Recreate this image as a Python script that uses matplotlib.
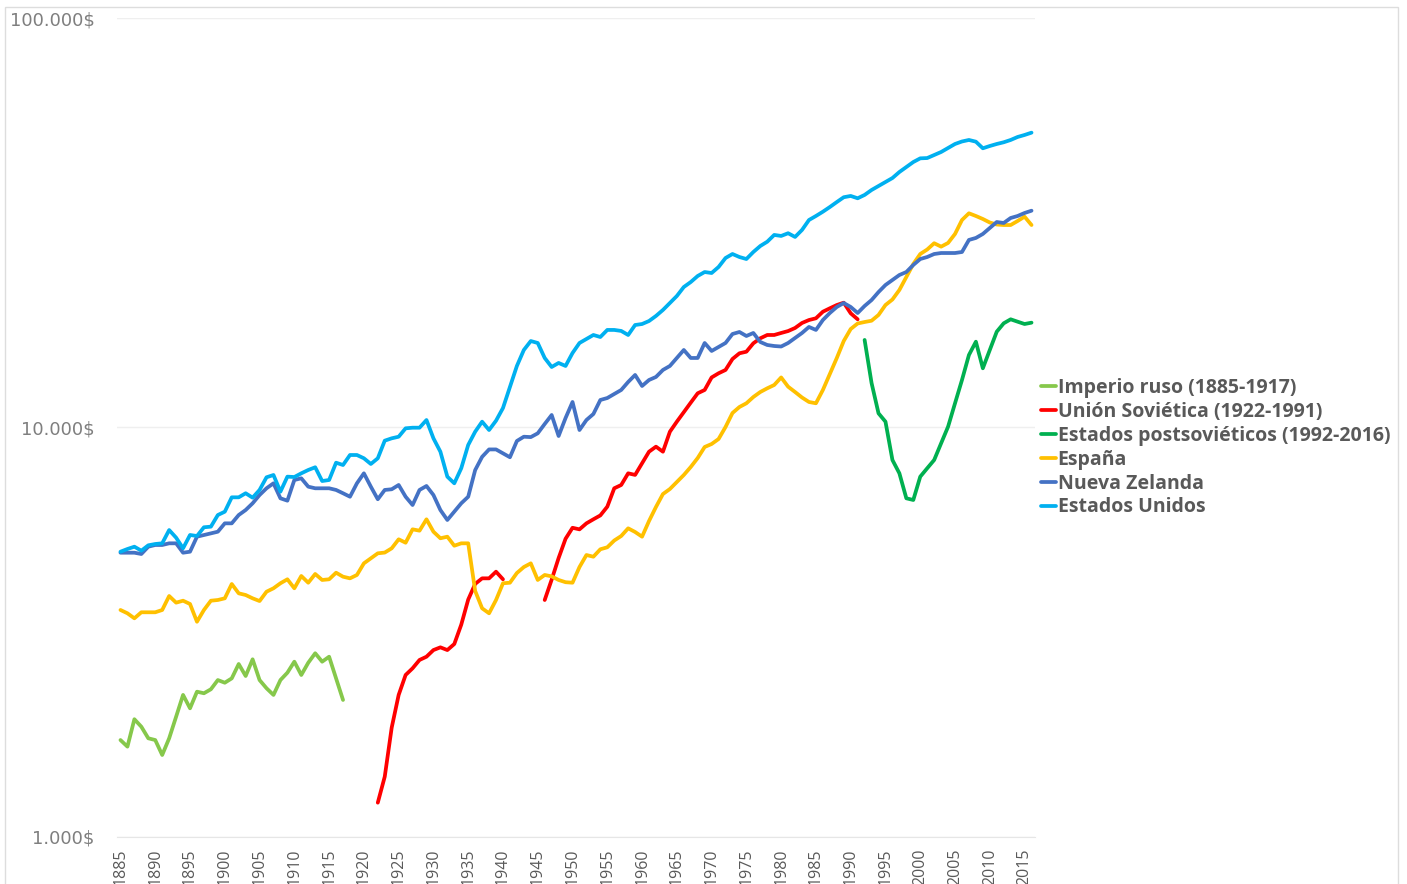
import numpy as np
import matplotlib
matplotlib.use("Agg")
import matplotlib.pyplot as plt
from matplotlib.ticker import FixedLocator, NullLocator, FuncFormatter
from matplotlib.patches import Rectangle

# GDP per capita (log scale), years 1885-2016
years = np.arange(1885, 2017)

ruso_start = 1885
ruso = [1725, 1662, 1939, 1859, 1742, 1725, 1586, 1742, 1967, 2223,
        2062, 2264, 2244, 2295, 2417, 2381, 2440, 2645, 2473, 2716,
        2417, 2308, 2223, 2417, 2519, 2680, 2487, 2664, 2810, 2680,
        2756, 2440, 2161]

urss_start = 1922
urss = [1213, 1404, 1850, 2223, 2487, 2582, 2706, 2756, 2861, 2905,
        2861, 2960, 3300, 3800, 4150, 4282, 4282, 4445, 4259,
        np.nan, np.nan, np.nan, np.nan, np.nan,
        3791, 4250, 4800, 5350, 5690, 5640, 5834, 5968, 6100, 6407,
        7105, 7238, 7729, 7660, 8178, 8728, 8978, 8728, 9766, 10333,
        10900, 11500, 12122, 12350, 13250, 13565, 13820, 14700, 15178, 15315,
        16056, 16513, 16824, 16824, 17015, 17200, 17500, 18000, 18300, 18480,
        19177, 19548, 19911, 20175, 19005, 18374]

postsov_start = 1992
postsov = [16360, 12840, 10830, 10333, 8330, 7729, 6716, 6653, 7585, 7952,
           8330, 9150, 10046, 11460, 13062, 15034, 16200, 13950, 15463, 17138,
           17966, 18374, 18130, 17895, 18030]

espana = [3584, 3518, 3420, 3538, 3538, 3538, 3584, 3877, 3735, 3776,
          3707, 3355, 3584, 3776, 3791, 3827, 4148, 3936, 3899, 3827,
          3769, 3972, 4049, 4165, 4259, 4049, 4339, 4178, 4388, 4243,
          4259, 4420, 4322, 4282, 4364, 4659, 4792, 4929, 4950, 5070,
          5333, 5232, 5641, 5598, 5968, 5566, 5364, 5412, 5144, 5214,
          5214, 3990, 3618, 3518, 3791, 4165, 4178, 4412, 4563, 4659,
          4243, 4364, 4330, 4243, 4190, 4178, 4563, 4882, 4836, 5042,
          5099, 5297, 5433, 5673, 5557, 5412, 5911, 6397, 6879, 7076,
          7360, 7656, 8009, 8424, 8962, 9114, 9373, 10028, 10849, 11222,
          11459, 11870, 12209, 12466, 12700, 13251, 12579, 12209, 11837, 11543,
          11459, 12350, 13506, 14782, 16266, 17399, 17948, 18097, 18230, 18830,
          19911, 20540, 21670, 23316, 25078, 26527, 27206, 28184, 27648, 28228,
          29692, 32115, 33351, 32849, 32298, 31665, 31310, 31222, 31222, 31936,
          32720, 31222]

nueva_zelanda = [4946, 4946, 4946, 4910, 5116, 5165, 5165, 5214, 5214, 4946,
                 4974, 5412, 5464, 5516, 5566, 5834, 5834, 6113, 6288, 6530,
                 6841, 7105, 7307, 6716, 6627, 7444, 7515, 7170, 7105, 7105,
                 7105, 7039, 6909, 6776, 7307, 7729, 7170, 6680, 7039, 7066,
                 7238, 6776, 6467, 7039, 7197, 6841, 6288, 5945, 6229, 6530,
                 6776, 7870, 8480, 8840, 8840, 8650, 8460, 9270, 9495, 9475,
                 9679, 10200, 10728, 9533, 10549, 11543, 9860, 10430, 10789, 11673,
                 11803, 12072, 12350, 12917, 13437, 12630, 13062, 13288, 13820, 14135,
                 14784, 15463, 14784, 14784, 16083, 15377, 15727, 16083, 16918, 17110,
                 16729, 17015, 16174, 15904, 15813, 15768, 16083, 16540, 17015, 17601,
                 17308, 18302, 19038, 19694, 20137, 19694, 19038, 19806, 20477, 21418,
                 22284, 22918, 23572, 23971, 24940, 25789, 26081, 26527, 26675, 26675,
                 26675, 26827, 28709, 29034, 29692, 30712, 31755, 31580, 32479, 32849,
                 33406, 33840]

estados_unidos = [4974, 5050, 5116, 5002, 5156, 5194, 5214, 5618, 5382, 5070,
                  5464, 5433, 5706, 5726, 6113, 6229, 6753, 6753, 6909, 6739,
                  7039, 7558, 7656, 6971, 7585, 7570, 7729, 7875, 7996, 7401,
                  7444, 8204, 8098, 8567, 8567, 8411, 8145, 8411, 9286, 9410,
                  9495, 9954, 9989, 9989, 10430, 9410, 8728, 7585, 7307, 7952,
                  9065, 9766, 10333, 9860, 10390, 11157, 12560, 14135, 15463, 16261,
                  16083, 14784, 14054, 14375, 14135, 15202, 16083, 16446, 16824, 16634,
                  17308, 17308, 17211, 16824, 17795, 17895, 18199, 18725, 19364, 20137,
                  20946, 22031, 22658, 23442, 23971, 23838, 24660, 25935, 26527, 26081,
                  25789, 26827, 27748, 28425, 29529, 29362, 29814, 29196, 30370, 32115,
                  32849, 33650, 34548, 35527, 36503, 36765, 36288, 36978, 38019, 38879,
                  39764, 40665, 42064, 43261, 44490, 45424, 45500, 46280, 47074, 48143,
                  49244, 49940, 50369, 49884, 48066, 48689, 49244, 49720, 50369, 51222,
                  51803, 52480]

series = [
    ("Imperio ruso (1885-1917)", ruso_start, ruso, "#86C84B"),
    ("Unión Soviética (1922-1991)", urss_start, urss, "#FF0000"),
    ("Estados postsoviéticos (1992-2016)", postsov_start, postsov, "#00B050"),
    ("España", 1885, espana, "#FFC000"),
    ("Nueva Zelanda", 1885, nueva_zelanda, "#4472C4"),
    ("Estados Unidos", 1885, estados_unidos, "#00B0F0"),
]

W, H = 1407, 884
fig = plt.figure(figsize=(W / 100, H / 100), dpi=100)
fig.patch.set_facecolor("white")
fig.patches.append(Rectangle((5 / W, -0.01), (1398 - 5) / W, 1.01 - 7 / H,
                             transform=fig.transFigure, fill=False,
                             ec="#DDDDDD", lw=1))

ax = fig.add_axes([117 / W, 47 / H, 918 / W, 819 / H])

handles = []
for label, start, vals, col in series:
    xs = np.arange(start, start + len(vals))
    l, = ax.plot(xs, vals, color=col, lw=2.7, label=label,
                 solid_capstyle="round", solid_joinstyle="round")
    handles.append(l)

ax.set_yscale("log")
ax.set_ylim(1000, 100000)
ax.set_xlim(1884.5, 2016.5)
ax.yaxis.set_major_locator(FixedLocator([1000, 10000, 100000]))
ax.yaxis.set_minor_locator(NullLocator())
ax.yaxis.set_major_formatter(FuncFormatter(
    lambda v, p: f"{int(round(v)):,}".replace(",", ".") + "$"))
ax.set_xticks(np.arange(1885, 2016, 5))
ax.xaxis.set_minor_locator(NullLocator())

for side in ["top", "right", "left"]:
    ax.spines[side].set_visible(False)
ax.spines["bottom"].set_color("#E6E6E6")
ax.grid(axis="y", color="#EFEFEF", lw=1)
ax.set_axisbelow(True)

ax.tick_params(axis="y", length=0, pad=16, labelsize=13, labelcolor="#7F7F7F")
ax.tick_params(axis="x", length=0, pad=8, labelsize=11.5, labelcolor="#595959",
               labelrotation=90)
for t in ax.get_xticklabels():
    t.set_family("Open Sans")
for t in ax.get_yticklabels():
    t.set_family("DejaVu Sans")

leg = fig.legend(handles=handles, loc="upper left",
                 bbox_to_anchor=(1041 / W, 1 - 378 / H), frameon=False,
                 prop={"family": "Open Sans", "weight": "bold", "size": 14},
                 labelcolor="#595959", handlelength=0.75, handletextpad=0.1,
                 labelspacing=0.2, borderpad=0, borderaxespad=0)

fig.savefig("out.png", dpi=100, facecolor="white")
